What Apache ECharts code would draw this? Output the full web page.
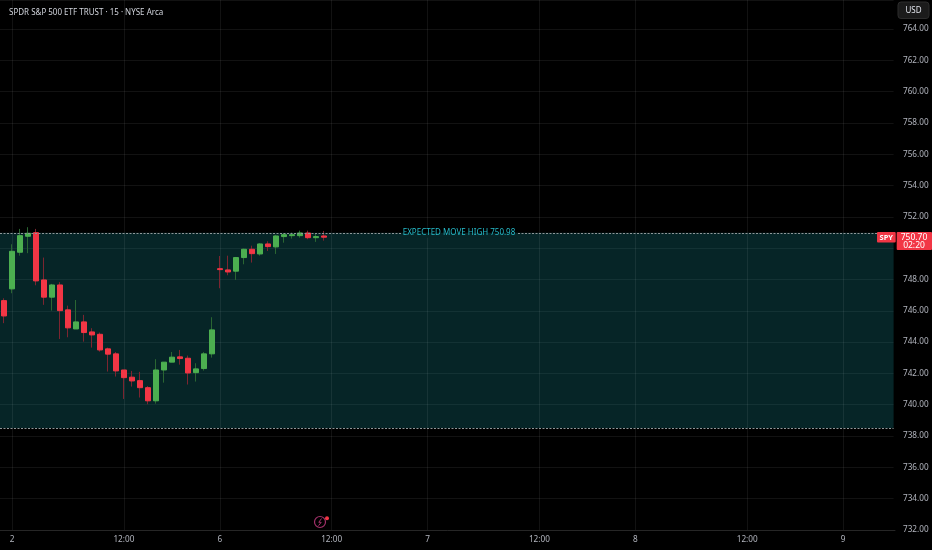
<!DOCTYPE html>
<html><head><meta charset="utf-8">
<script src="https://cdn.jsdelivr.net/npm/echarts@6/dist/echarts.min.js"></script>
<style>html,body{margin:0;padding:0;background:#000;}#c{width:932px;height:550px;}</style>
</head><body><div id="c"></div>
<script>
// ---- data ----
const dayLabels = ['31', '2', '6', '7', '8', '9'];
const barsPerDay = [1, 26, 26, 26, 26, 7];   // slots shown per day (first = last bar of prior session)
const firstSlotOfDay = [25, 0, 0, 0, 0, 0];  // starting 15-min slot of each day (0 = 08:30)
const tickTimeLabel = '12:00';

const openP  = [746.65,747.40,749.74,750.76,750.99,747.97,746.87,747.65,746.06,744.84,745.29,744.65,744.50,743.57,743.25,742.22,741.76,741.54,741.09,740.25,742.22,742.72,743.06,742.97,742.05,742.31,743.25,748.69,748.61,748.53,749.40,749.93,749.63,750.27,750.08,750.74,750.80,750.80,750.97,750.67,750.78];
const highP  = [746.80,750.25,751.23,751.34,751.23,749.40,747.72,747.83,746.33,746.69,745.74,744.89,744.61,743.65,743.37,742.22,742.16,742.10,741.20,742.91,742.72,743.37,743.50,743.14,742.65,743.37,745.59,749.50,749.52,749.44,749.97,750.16,750.32,750.44,750.85,750.95,750.99,751.12,751.12,750.91,751.10];
const lowP   = [745.21,747.12,749.52,749.68,747.63,746.38,746.01,744.20,744.31,744.84,744.03,743.65,743.39,742.12,741.80,740.37,741.16,740.46,740.03,740.07,741.41,742.72,742.56,741.29,741.48,742.18,743.01,747.44,748.27,747.97,748.97,749.08,749.52,749.82,749.63,750.35,750.61,750.67,750.57,750.40,750.48];
const closeP = [745.67,749.80,750.80,750.95,747.91,746.87,747.65,746.01,744.91,745.29,744.61,744.46,743.50,743.23,742.16,741.73,741.52,741.09,740.25,742.22,742.72,743.04,742.95,742.03,742.29,743.25,744.78,748.63,748.48,749.40,749.93,749.65,750.27,750.10,750.78,750.86,750.86,750.97,750.67,750.74,750.70];

const expectedHigh = 750.98;
const expectedLow = 738.52;
const lastPrice = 750.70;
const countdown = '02:20';
const symbolName = 'SPY';
const titleText = 'SPDR S&P 500 ETF TRUST · 15 · NYSE Arca';
const currencyText = 'USD';
const expectedLabel = 'EXPECTED MOVE HIGH';
const yMin = 732, yMax = 765.85, yStep = 2;

// ---- build categories ----
function slotTime(s) {
  const m = 8 * 60 + 30 + 15 * s;
  return String(Math.floor(m / 60)).padStart(2, '0') + ':' + String(m % 60).padStart(2, '0');
}
const categories = [];
dayLabels.forEach((d, di) => {
  for (let i = 0; i < barsPerDay[di]; i++) categories.push(d + ' ' + slotTime(firstSlotOfDay[di] + i));
});
function tickText(cat) {
  const [d, t] = cat.split(' ');
  if (t === '08:30') return d;
  if (t === tickTimeLabel) return tickTimeLabel;
  return null;
}
const tickCats = categories.filter(c => tickText(c) !== null);

const fullData = openP.map((o, i) => [o, closeP[i], lowP[i], highP[i]]);
const bodyData = openP.map((o, i) => [o, closeP[i], Math.min(o, closeP[i]), Math.max(o, closeP[i])]);

const UP = '#4caf50', DOWN = '#f23645', UPW = '#2a6632', DOWNW = '#7c2530';
const FONT = 'Noto Sans';
const GRID = 'rgba(255,255,255,0.07)';

const chart = echarts.init(document.getElementById('c'));
chart.setOption({
  backgroundColor: '#000000',
  animation: false,
  title: { text: titleText, left: 4, top: 4, textStyle: { color: '#d1d4dc', fontSize: 8, fontWeight: 'normal', fontFamily: FONT } },
  grid: { show: false, borderWidth: 0, left: -2, right: 37, top: 0, bottom: 20 },
  xAxis: {
    type: 'category', data: categories, boundaryGap: true,
    axisLine: { lineStyle: { color: '#262626' } },
    axisTick: { show: false },
    splitLine: { show: false },
    splitArea: { show: false },
    axisLabel: {
      interval: (idx, val) => tickText(val) !== null,
      formatter: val => tickText(val) || '',
      color: '#b2b5be', fontSize: 8.2, fontFamily: FONT, margin: 6
    }
  },
  yAxis: {
    type: 'value', position: 'right', min: yMin, max: yMax, interval: yStep,
    axisLine: { show: false }, axisTick: { show: false },
    splitLine: { lineStyle: { color: GRID } },
    splitArea: { show: false },
    axisLabel: {
      showMaxLabel: false, color: '#b2b5be', fontSize: 8.2, fontFamily: FONT, margin: 8,
      formatter: v => (Math.abs(v - 750) < 1e-6 ? '' : v.toFixed(2))
    }
  },
  series: [
    {
      type: 'candlestick', name: 'wicks', data: fullData, barWidth: 1, z: 2,
      itemStyle: { color: UPW, color0: DOWNW, borderColor: UPW, borderColor0: DOWNW, borderWidth: 1 },
      markArea: {
        silent: true, z: 1,
        itemStyle: { color: 'rgba(24,148,156,0.25)', borderWidth: 0 },
        data: [[{ yAxis: expectedLow }, { yAxis: expectedHigh }]]
      },
      markLine: {
        silent: true, z: 1.5, symbol: ['none', 'none'],
        lineStyle: { color: GRID, width: 1, type: 'solid' },
        label: { show: false }, emphasis: { disabled: true },
        data: tickCats.map(c => ({ xAxis: c }))
      }
    },
    {
      type: 'candlestick', name: 'SPY', data: bodyData, barWidth: 5.5, z: 3,
      itemStyle: { color: UP, color0: DOWN, borderColor: UP, borderColor0: DOWN, borderWidth: 1 },
      markLine: {
        silent: true, z: 4, symbol: ['none', 'none'],
        lineStyle: { color: '#8f9799', width: 1, type: [2, 1.5] },
        label: { show: false }, emphasis: { disabled: true },
        data: [{ yAxis: expectedHigh }, { yAxis: expectedLow }]
      }
    }
  ]
});

const yHigh = chart.convertToPixel({ yAxisIndex: 0 }, expectedHigh);
const yLast = chart.convertToPixel({ yAxisIndex: 0 }, lastPrice);

chart.setOption({
  graphic: [
    // price-scale gutter edge
    { type: 'rect', z: 50, shape: { x: 893.6, y: 0, width: 6, height: 529.5 }, style: { fill: '#000000' } },
    // expected-move label (breaks the dotted line)
    { type: 'rect', z: 100, shape: { x: 401, y: yHigh - 5, width: 116, height: 5 }, style: { fill: '#000000' } },
    { type: 'rect', z: 100, shape: { x: 401, y: yHigh, width: 116, height: 5 }, style: { fill: '#062527' } },
    { type: 'text', z: 101, x: 459, y: yHigh, style: { text: expectedLabel + ' ' + expectedHigh.toFixed(2), fill: '#26bccb', font: '8px "Noto Sans"', align: 'center', verticalAlign: 'middle' } },
    // last price tags
    { type: 'rect', z: 100, shape: { x: 877, y: yLast - 5.3, width: 18.7, height: 10.7, r: 1 }, style: { fill: DOWN } },
    { type: 'text', z: 101, x: 886.3, y: yLast + 0.2, style: { text: symbolName, fill: '#ffffff', font: 'bold 7.5px "Noto Sans"', align: 'center', verticalAlign: 'middle' } },
    { type: 'rect', z: 100, shape: { x: 896.7, y: yLast - 5.3, width: 35.3, height: 18, r: 1 }, style: { fill: DOWN } },
    { type: 'text', z: 101, x: 914, y: yLast + 0.2, style: { text: lastPrice.toFixed(2), fill: '#ffffff', font: '8.5px "Noto Sans"', align: 'center', verticalAlign: 'middle' } },
    { type: 'text', z: 101, x: 914, y: yLast + 8.5, style: { text: countdown, fill: '#ffffff', font: '8.5px "Noto Sans"', align: 'center', verticalAlign: 'middle' } },
    // currency box
    { type: 'rect', z: 100, shape: { x: 898, y: 2, width: 31, height: 16.5, r: 3 }, style: { fill: '#1b1b1b', stroke: '#2c2c2c', lineWidth: 1 } },
    { type: 'text', z: 101, x: 913.5, y: 10.5, style: { text: currencyText, fill: '#e0e3eb', font: '8px "Noto Sans"', align: 'center', verticalAlign: 'middle' } },
    // lightning icon
    { type: 'circle', z: 100, shape: { cx: 320, cy: 522, r: 5.5 }, style: { fill: 'none', stroke: '#a3306a', lineWidth: 1.2 } },
    { type: 'polyline', z: 100, shape: { points: [[321.5, 518.5], [318.8, 522.3], [321.2, 522.3], [318.5, 525.7]] }, style: { fill: 'none', stroke: '#a3306a', lineWidth: 1 } },
    { type: 'circle', z: 101, shape: { cx: 327, cy: 518.3, r: 2 }, style: { fill: '#f23645' } }
  ]
});
</script>
</body></html>
